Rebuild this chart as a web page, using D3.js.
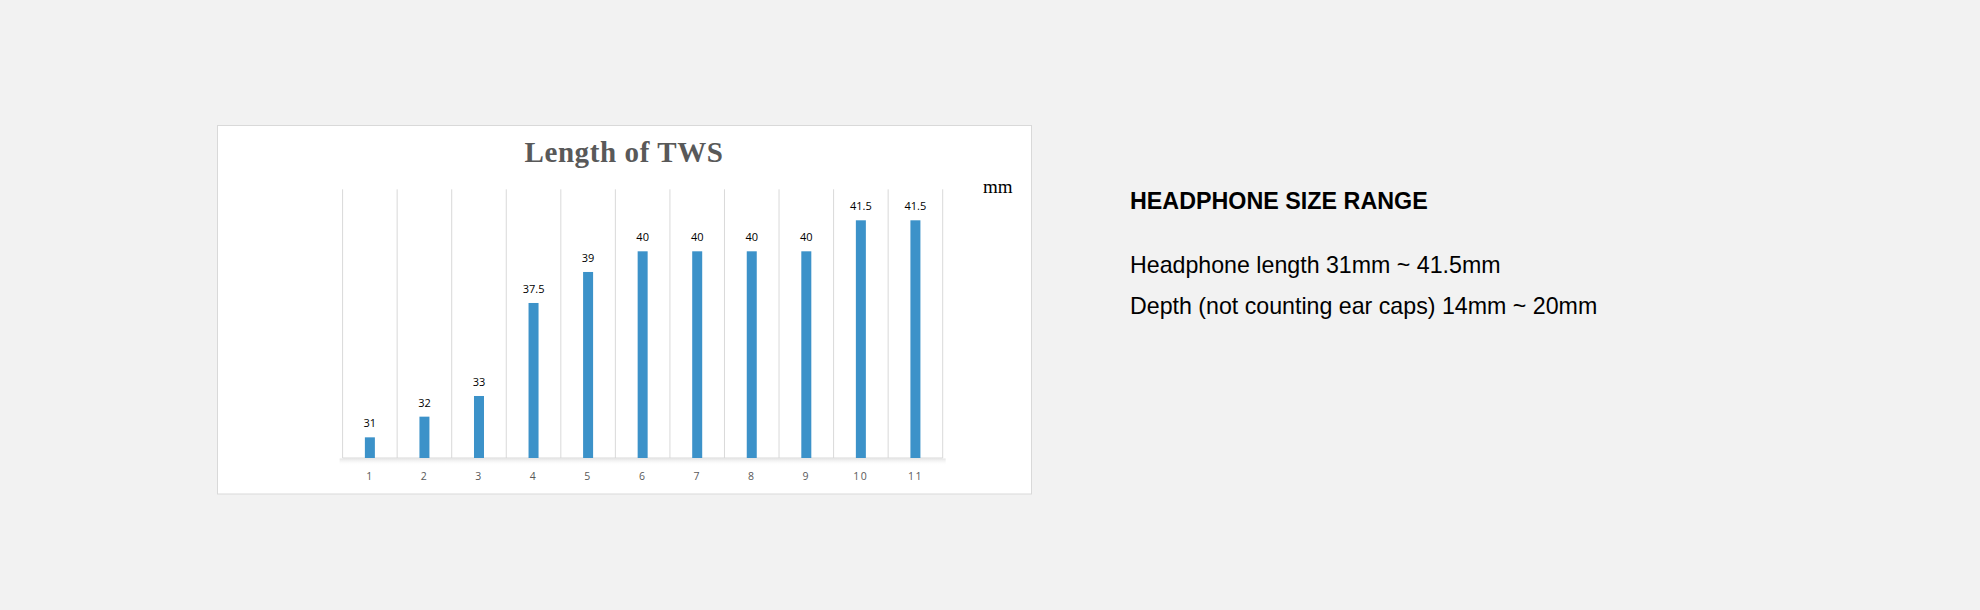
<!DOCTYPE html>
<html>
<head>
<meta charset="utf-8">
<script src="https://cdn.jsdelivr.net/npm/d3@7"></script>
<style>
  html, body { margin: 0; padding: 0; background: #f2f2f2; }
  svg { display: block; }
</style>
</head>
<body>
<svg id="chart" width="1980" height="610"></svg>
<script>
// ---- data ----
const categories = ["1", "2", "3", "4", "5", "6", "7", "8", "9", "10", "11"];
const lengths = [31, 32, 33, 37.5, 39, 40, 40, 40, 40, 41.5, 41.5];
const valueLabels = ["31", "32", "33", "37.5", "39", "40", "40", "40", "40", "41.5", "41.5"];
const yDomain = [30, 43];
const chartTitle = "Length of TWS";
const unitLabel = "mm";
const sideHeading = "HEADPHONE SIZE RANGE";
const sideLines = ["Headphone length 31mm ~ 41.5mm", "Depth (not counting ear caps) 14mm ~ 20mm"];

// ---- layout ----
const svg = d3.select("#chart");
const box = { x: 217.5, y: 125.5, w: 814, h: 368.5 };
const plot = { left: 342.6, right: 942.7, top: 189.3, bottom: 458 };

const defs = svg.append("defs");
const grad = defs.append("linearGradient").attr("id", "axShadow").attr("x1", 0).attr("y1", 0).attr("x2", 0).attr("y2", 1);
grad.append("stop").attr("offset", "0%").attr("stop-color", "#e4e4e4");
grad.append("stop").attr("offset", "100%").attr("stop-color", "#ffffff").attr("stop-opacity", 0);

// white chart box
svg.append("rect")
  .attr("x", box.x).attr("y", box.y).attr("width", box.w).attr("height", box.h)
  .attr("fill", "#ffffff").attr("stroke", "#d9d9d9").attr("stroke-width", 1);

// title
svg.append("text")
  .attr("x", 624).attr("y", 162.3)
  .attr("text-anchor", "middle")
  .attr("font-family", "'Liberation Serif', 'DejaVu Serif', serif")
  .attr("font-weight", "bold")
  .attr("font-size", 29)
  .attr("letter-spacing", 0.6)
  .attr("fill", "#595959")
  .text(chartTitle);

// unit label
svg.append("text")
  .attr("x", 983).attr("y", 193.3)
  .attr("font-family", "'Liberation Serif', serif")
  .attr("font-size", 19)
  .attr("fill", "#000")
  .text(unitLabel);

// scales
const x = d3.scaleBand().domain(categories).range([plot.left, plot.right]).padding(0);
const y = d3.scaleLinear().domain(yDomain).range([plot.bottom, plot.top]);

// vertical gridlines at band boundaries
const gridXs = categories.map(c => x(c)).concat([x(categories[categories.length - 1]) + x.bandwidth()]);
svg.append("g").selectAll("line").data(gridXs).join("line")
  .attr("x1", d => d).attr("x2", d => d)
  .attr("y1", plot.top).attr("y2", plot.bottom)
  .attr("stroke", "#d9d9d9").attr("stroke-width", 1);

// axis shadow
svg.append("rect")
  .attr("x", plot.left - 3).attr("y", plot.bottom + 0.5).attr("width", plot.right - plot.left + 6).attr("height", 7)
  .attr("fill", "url(#axShadow)");

// axis line
svg.append("line")
  .attr("x1", plot.left).attr("x2", plot.right)
  .attr("y1", plot.bottom).attr("y2", plot.bottom)
  .attr("stroke", "#d9d9d9").attr("stroke-width", 1);

// bars
const barW = 10;
svg.append("g").selectAll("rect").data(lengths).join("rect")
  .attr("x", (d, i) => x(categories[i]) + x.bandwidth() / 2 - barW / 2)
  .attr("y", d => y(d))
  .attr("width", barW)
  .attr("height", d => y(yDomain[0]) - y(d))
  .attr("fill", "#3c92c9");

// value labels
svg.append("g").selectAll("text").data(lengths).join("text")
  .attr("x", (d, i) => x(categories[i]) + x.bandwidth() / 2)
  .attr("y", d => y(d) - 10)
  .attr("text-anchor", "middle")
  .attr("font-family", "'Open Sans', sans-serif")
  .attr("font-size", 11)
  .attr("fill", "#000")
  .text((d, i) => valueLabels[i]);

// x axis tick labels
const xAxis = d3.axisBottom(x).tickSize(0).tickPadding(0);
const gx = svg.append("g").attr("transform", `translate(0,${plot.bottom})`).call(xAxis);
gx.select(".domain").remove();
gx.selectAll("text")
  .attr("y", 22)
  .attr("dy", 0)
  .attr("font-family", "'Open Sans', sans-serif")
  .attr("font-size", 10.5)
  .attr("letter-spacing", 1.5)
  .attr("fill", "#595959");

// side text
svg.append("text")
  .attr("x", 1130).attr("y", 209.3)
  .attr("font-family", "'Liberation Sans', Arial, sans-serif")
  .attr("font-weight", "bold")
  .attr("font-size", 23.3)
  .attr("fill", "#000")
  .text(sideHeading);

svg.append("g").selectAll("text").data(sideLines).join("text")
  .attr("x", 1130)
  .attr("y", (d, i) => 272.7 + i * 41.3)
  .attr("font-family", "'Liberation Sans', Arial, sans-serif")
  .attr("font-size", 23.2)
  .attr("fill", "#000")
  .text(d => d);
</script>
</body>
</html>
